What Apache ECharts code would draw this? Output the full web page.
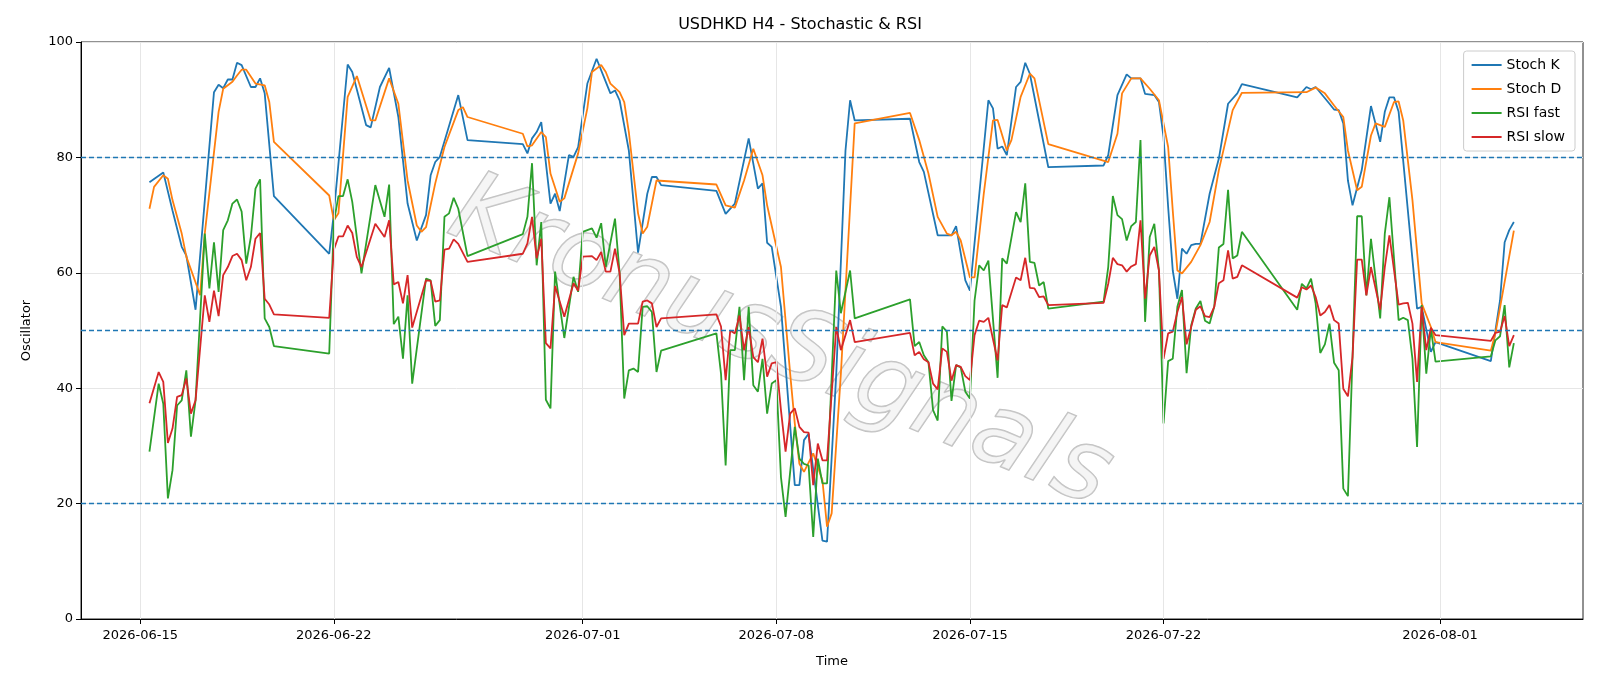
<!DOCTYPE html>
<html>
<head>
<meta charset="utf-8">
<script src="https://cdn.jsdelivr.net/npm/echarts@6/dist/echarts.min.js"></script>
<style>
  html, body { margin: 0; padding: 0; background: #fff; }
  #chart { width: 1600px; height: 686px; }
</style>
</head>
<body>
<div id="chart"></div>
<script>
// hours since 2026-06-15 00:00, value
const startTime = new Date(2026, 5, 15, 0, 0, 0).getTime();
const tickDates = ['2026-06-15', '2026-06-22', '2026-07-01', '2026-07-08', '2026-07-15', '2026-07-22', '2026-08-01'];
const levels = [80, 50, 20];

const stochK = [[8,75.7],[20,77.4],[28,70.8],[36,64.5],[40,63.0],[48,53.6],[64,91.3],[68,92.6],[72,92.0],[76,93.5],[80,93.5],[84,96.4],[88,96.0],[96,92.2],[100,92.2],[104,93.7],[108,91.1],[116,73.3],[164,63.3],[168,70.3],[180,96.1],[184,94.8],[196,85.6],[200,85.2],[208,92.2],[216,95.5],[224,87.0],[232,72.0],[240,65.6],[248,70.0],[252,76.9],[256,79.2],[260,80.1],[276,90.8],[284,83.0],[332,82.3],[336,80.7],[340,83.3],[344,84.4],[348,86.1],[356,72.0],[360,73.7],[364,70.7],[372,80.4],[376,80.1],[380,81.8],[388,92.8],[396,97.1],[404,93.1],[408,91.1],[412,91.6],[416,89.9],[424,81.2],[432,63.5],[440,73.7],[444,76.6],[448,76.6],[452,75.2],[500,74.2],[508,70.2],[516,72.0],[528,83.3],[536,74.6],[540,75.5],[544,65.2],[548,64.5],[556,54.1],[568,23.2],[572,23.2],[576,31.0],[580,32.1],[592,13.6],[596,13.4],[604,42.5],[612,81.2],[616,89.9],[620,86.4],[668,86.7],[676,79.2],[680,77.5],[692,66.5],[704,66.5],[708,68.1],[716,58.7],[720,56.9],[736,89.9],[740,88.5],[744,81.5],[748,81.9],[752,80.4],[760,92.2],[764,93.1],[768,96.4],[772,94.5],[788,78.3],[836,78.6],[840,80.4],[848,90.8],[856,94.4],[860,93.7],[868,93.7],[872,91.0],[880,90.8],[884,89.6],[888,83.5],[892,71.4],[896,60.4],[900,55.5],[904,64.2],[908,63.3],[912,64.8],[916,65.0],[920,65.0],[928,73.7],[936,79.8],[944,89.3],[952,91.1],[956,92.7],[1004,90.4],[1012,92.2],[1016,91.8],[1020,92.2],[1032,89.3],[1036,88.3],[1040,88.2],[1044,85.9],[1048,76.0],[1052,71.7],[1060,77.8],[1068,88.9],[1076,82.7],[1080,87.9],[1084,90.4],[1088,90.4],[1092,87.9],[1108,53.8],[1112,54.1],[1120,46.3],[1124,48.0],[1172,44.7],[1176,50.0],[1180,55.2],[1184,65.3],[1188,67.4],[1192,68.8]];

const stochD = [[8,71.1],[12,74.9],[20,76.9],[24,76.3],[28,72.6],[36,66.8],[40,62.8],[52,56.1],[56,66.8],[68,87.9],[72,91.9],[80,93.1],[84,94.2],[88,95.2],[92,95.2],[100,92.8],[108,92.5],[112,89.6],[116,82.7],[164,73.4],[168,69.1],[172,70.3],[180,90.5],[188,94.1],[200,86.4],[204,86.4],[216,93.7],[224,89.3],[232,76.0],[240,68.2],[244,67.1],[248,67.9],[256,75.5],[264,81.8],[276,88.2],[280,88.7],[284,87.0],[332,84.1],[336,81.9],[340,82.1],[348,84.4],[352,83.5],[356,77.2],[364,72.3],[368,72.9],[380,80.7],[388,88.5],[392,94.8],[400,96.0],[404,94.8],[408,92.8],[416,91.3],[420,89.6],[424,84.4],[432,70.3],[436,66.8],[440,68.0],[448,76.0],[500,75.3],[508,71.7],[516,71.3],[524,76.0],[532,81.5],[540,76.9],[544,71.7],[556,61.0],[564,42.5],[568,33.9],[572,26.9],[576,25.5],[584,28.7],[592,24.0],[596,16.0],[600,18.3],[608,42.5],[616,71.4],[620,85.9],[668,87.7],[676,83.0],[684,77.2],[692,69.7],[700,66.8],[704,66.5],[708,67.1],[712,65.6],[720,59.2],[724,59.2],[732,73.7],[740,86.4],[744,86.5],[752,81.2],[756,83.0],[764,90.5],[772,94.5],[776,93.7],[788,82.3],[840,79.2],[848,84.1],[852,91.1],[860,93.7],[868,93.7],[876,91.9],[884,89.9],[892,81.8],[896,70.8],[900,60.4],[904,59.9],[912,61.9],[920,64.8],[928,68.8],[936,77.8],[948,88.2],[956,91.2],[1012,91.3],[1020,92.1],[1028,91.1],[1036,89.0],[1044,87.0],[1048,81.2],[1056,74.3],[1060,74.9],[1068,83.8],[1072,85.9],[1080,85.3],[1088,89.6],[1092,89.7],[1096,86.4],[1104,72.6],[1112,54.7],[1120,50.6],[1124,48.0],[1172,46.5],[1176,49.5],[1192,67.3]];

const rsiFast = [[8,29.0],[16,40.8],[20,37.3],[24,20.9],[28,25.8],[32,37.0],[36,37.9],[40,43.1],[44,31.6],[48,37.9],[56,66.8],[60,57.3],[64,65.3],[68,56.7],[72,67.4],[76,69.1],[80,72.0],[84,72.7],[88,70.6],[92,61.6],[96,66.2],[100,74.6],[104,76.2],[108,52.1],[112,50.6],[116,47.3],[164,46.0],[168,68.8],[172,73.3],[176,73.3],[180,76.2],[184,72.3],[192,59.9],[204,75.2],[212,69.7],[216,75.3],[220,51.1],[224,52.4],[228,45.1],[232,56.1],[236,40.8],[248,59.0],[252,58.7],[256,50.8],[260,51.8],[264,69.7],[268,70.3],[272,73.0],[276,71.1],[284,62.9],[332,66.7],[336,69.7],[340,79.0],[344,61.3],[348,68.8],[352,38.0],[356,36.5],[360,60.2],[368,48.7],[376,59.3],[380,56.7],[384,67.1],[392,67.7],[396,66.1],[400,68.6],[404,61.0],[412,69.4],[416,59.9],[420,38.2],[424,43.1],[428,43.4],[432,42.8],[436,54.1],[440,54.2],[444,53.2],[448,42.8],[452,46.5],[500,49.5],[504,42.5],[508,26.6],[512,46.6],[516,46.6],[520,54.1],[524,41.4],[528,54.1],[532,40.5],[536,39.4],[540,45.1],[544,35.6],[548,40.8],[552,41.4],[556,24.6],[560,17.7],[568,33.3],[572,27.8],[576,26.9],[580,26.6],[584,14.2],[588,27.8],[592,23.5],[596,23.5],[604,60.4],[608,53.0],[616,60.4],[620,52.1],[668,55.4],[672,47.3],[676,48.0],[680,45.7],[684,44.5],[688,36.2],[692,34.4],[696,50.7],[700,49.8],[704,37.8],[708,44.0],[712,43.6],[716,39.4],[720,38.2],[724,55.2],[728,61.3],[732,60.4],[736,62.1],[744,41.8],[748,62.5],[752,61.6],[760,70.5],[764,68.8],[768,75.5],[772,61.9],[776,61.7],[780,57.8],[784,58.4],[788,53.8],[836,55.0],[840,61.0],[844,73.3],[848,70.0],[852,69.3],[856,65.6],[860,68.1],[864,68.8],[868,83.0],[872,51.5],[876,66.2],[880,68.5],[884,60.4],[888,33.9],[892,44.7],[896,45.1],[900,54.1],[904,57.0],[908,42.6],[912,50.9],[916,53.8],[920,55.1],[924,51.7],[928,51.2],[932,54.1],[936,64.4],[940,65.0],[944,74.4],[948,62.5],[952,63.0],[956,67.1],[1004,53.6],[1008,58.1],[1012,57.3],[1016,59.0],[1020,54.7],[1024,46.1],[1028,47.6],[1032,51.2],[1036,44.4],[1040,43.1],[1044,22.6],[1048,21.3],[1052,45.4],[1056,69.8],[1060,69.8],[1064,56.1],[1068,65.9],[1076,52.1],[1080,66.8],[1084,73.1],[1092,51.8],[1096,52.2],[1100,51.8],[1104,45.1],[1108,29.8],[1112,54.4],[1116,42.5],[1120,50.3],[1124,44.6],[1172,45.5],[1176,48.3],[1180,49.0],[1184,54.4],[1188,43.6],[1192,47.8]];

const rsiSlow = [[8,37.4],[16,42.8],[20,41.1],[24,30.5],[28,33.0],[32,38.5],[36,38.8],[40,41.7],[44,35.6],[48,37.9],[56,56.1],[60,51.5],[64,56.9],[68,52.5],[72,59.6],[76,61.0],[80,62.9],[84,63.3],[88,62.2],[92,58.7],[96,61.0],[100,65.9],[104,66.9],[108,55.5],[112,54.5],[116,52.8],[164,52.2],[168,64.0],[172,66.3],[176,66.3],[180,68.2],[184,66.9],[188,62.7],[192,61.0],[204,68.5],[212,66.2],[216,69.1],[220,58.0],[224,58.4],[228,54.7],[232,59.6],[236,50.5],[248,58.7],[252,58.6],[256,55.0],[260,55.2],[264,64.0],[268,64.2],[272,65.8],[276,65.0],[284,61.9],[332,63.3],[336,65.1],[340,69.7],[344,62.5],[348,65.9],[352,47.8],[356,46.9],[360,57.7],[368,52.4],[376,58.2],[380,56.9],[384,62.8],[392,62.9],[396,62.2],[400,63.6],[404,60.2],[408,60.2],[412,64.2],[416,59.9],[420,49.2],[424,51.2],[432,51.2],[436,55.0],[440,55.2],[444,54.7],[448,50.6],[452,52.1],[500,52.8],[504,50.7],[508,41.4],[512,50.0],[516,49.5],[520,52.6],[524,46.6],[528,50.6],[532,45.4],[536,44.5],[540,48.6],[544,42.0],[548,44.3],[552,44.5],[556,36.2],[560,29.0],[564,35.6],[568,36.5],[572,33.3],[576,32.4],[580,32.3],[584,23.2],[588,30.4],[592,27.5],[596,27.5],[604,50.6],[608,46.6],[616,51.8],[620,48.0],[668,49.6],[672,45.7],[676,46.3],[680,45.0],[684,44.5],[688,40.8],[692,39.8],[696,46.9],[700,46.3],[704,41.3],[708,44.0],[712,43.7],[716,42.1],[720,41.4],[724,49.2],[728,51.7],[732,51.5],[736,52.2],[744,44.8],[748,54.4],[752,54.0],[760,59.2],[764,58.7],[768,62.6],[772,57.4],[776,57.3],[780,55.8],[784,55.9],[788,54.4],[836,54.8],[840,58.1],[844,62.6],[848,61.5],[852,61.3],[856,60.2],[860,61.1],[864,61.5],[868,69.1],[872,55.5],[876,63.0],[880,64.5],[884,60.4],[888,45.1],[892,49.5],[896,49.8],[900,53.2],[904,55.8],[908,47.6],[912,50.6],[916,53.6],[920,54.2],[924,52.5],[928,52.3],[932,54.1],[936,58.2],[940,58.7],[944,63.9],[948,59.0],[952,59.3],[956,61.3],[1004,55.7],[1008,57.5],[1012,57.1],[1016,57.8],[1020,55.8],[1024,52.6],[1028,53.2],[1032,54.4],[1036,51.8],[1040,51.2],[1044,39.9],[1048,38.6],[1052,45.4],[1056,62.3],[1060,62.3],[1064,56.1],[1068,61.0],[1076,53.6],[1080,61.0],[1084,66.5],[1092,54.5],[1096,54.7],[1100,54.8],[1104,51.2],[1108,41.1],[1112,54.1],[1116,46.6],[1120,50.5],[1124,49.2],[1172,48.2],[1176,49.6],[1180,49.8],[1184,52.5],[1188,47.3],[1192,49.2]];

const HOUR = 3600 * 1000;
const toData = pts => pts.map(p => [startTime + p[0] * HOUR, p[1]]);
const tickTimes = tickDates.map(d => {
    const [y, m, dd] = d.split('-').map(Number);
    return new Date(y, m - 1, dd).getTime();
});
const pad = n => String(n).padStart(2, '0');
const fmtDate = v => {
    const d = new Date(v);
    return d.getFullYear() + '-' + pad(d.getMonth() + 1) + '-' + pad(d.getDate());
};

const font = 'DejaVu Sans';
const chart = echarts.init(document.getElementById('chart'));

const lineSeries = (name, pts, color) => ({
    name, type: 'line', data: toData(pts), showSymbol: false, symbol: 'none',
    lineStyle: { width: 1.8, color }, itemStyle: { color }, z: 3
});

chart.setOption({
    animation: false,
    textStyle: { fontFamily: font },
    title: {
        text: 'USDHKD H4 - Stochastic & RSI', left: 'center', top: 12,
        textStyle: { fontSize: 16, fontWeight: 'normal', color: '#000', fontFamily: font }
    },
    grid: { left: 81, right: 17, top: 42, bottom: 67, show: true, borderColor: '#222', borderWidth: 1 },
    legend: {
        orient: 'vertical', right: 25, top: 51,
        data: ['Stoch K', 'Stoch D', 'RSI fast', 'RSI slow'],
        icon: 'path://M0,0 L30,0 L30,2 L0,2 Z', itemWidth: 30, itemHeight: 2, itemGap: 10,
        textStyle: { fontSize: 14, color: '#000', fontFamily: font },
        backgroundColor: 'rgba(255,255,255,0.85)', borderColor: '#ccc', borderWidth: 1, borderRadius: 3,
        padding: [7, 10, 7, 8]
    },
    xAxis: {
        type: 'value',
        min: startTime - 51.4 * HOUR,
        max: startTime + 1252 * HOUR,
        name: 'Time', nameLocation: 'middle', nameGap: 36,
        nameTextStyle: { fontSize: 13, color: '#000', fontFamily: font },
        axisLine: { lineStyle: { color: '#000' } },
        axisTick: { customValues: tickTimes, length: 5, lineStyle: { color: '#000' } },
        axisLabel: { customValues: tickTimes, fontSize: 13, color: '#000', margin: 10, formatter: fmtDate },
        splitLine: { show: false }
    },
    yAxis: {
        type: 'value', min: 0, max: 100, interval: 20,
        name: 'Oscillator', nameLocation: 'middle', nameGap: 48,
        nameTextStyle: { fontSize: 13, color: '#000', fontFamily: font },
        axisLine: { show: true, lineStyle: { color: '#000' } },
        axisTick: { show: true, length: 5, lineStyle: { color: '#000' } },
        axisLabel: { fontSize: 13, color: '#000', margin: 8 },
        splitLine: { lineStyle: { color: '#e6e6e6', width: 1 } }
    },
    graphic: [{
        type: 'text', x: 780, y: 345, rotation: -0.4, z: 1, silent: true,
        style: {
            text: 'KronusSignals', font: 'italic 100px "DejaVu Sans"',
            fill: 'rgba(225,225,225,0.35)', stroke: 'rgba(150,150,150,0.6)', lineWidth: 1.5,
            align: 'center', verticalAlign: 'middle'
        }
    }],
    series: [
        {
            name: 'grid', type: 'line', data: [], silent: true, z: 1,
            markLine: {
                symbol: 'none', silent: true, label: { show: false },
                lineStyle: { color: '#e6e6e6', type: 'solid', width: 1 },
                data: tickTimes.map(t => ({ xAxis: t }))
            }
        },
        {
            name: 'levels', type: 'line', data: [], silent: true, z: 2,
            markLine: {
                symbol: 'none', silent: true, label: { show: false },
                lineStyle: { color: '#1f77b4', type: [5, 3], width: 1.3 },
                data: levels.map(v => ({ yAxis: v }))
            }
        },
        lineSeries('Stoch K', stochK, '#1f77b4'),
        lineSeries('Stoch D', stochD, '#ff7f0e'),
        lineSeries('RSI fast', rsiFast, '#2ca02c'),
        lineSeries('RSI slow', rsiSlow, '#d62728')
    ]
});
</script>
</body>
</html>
